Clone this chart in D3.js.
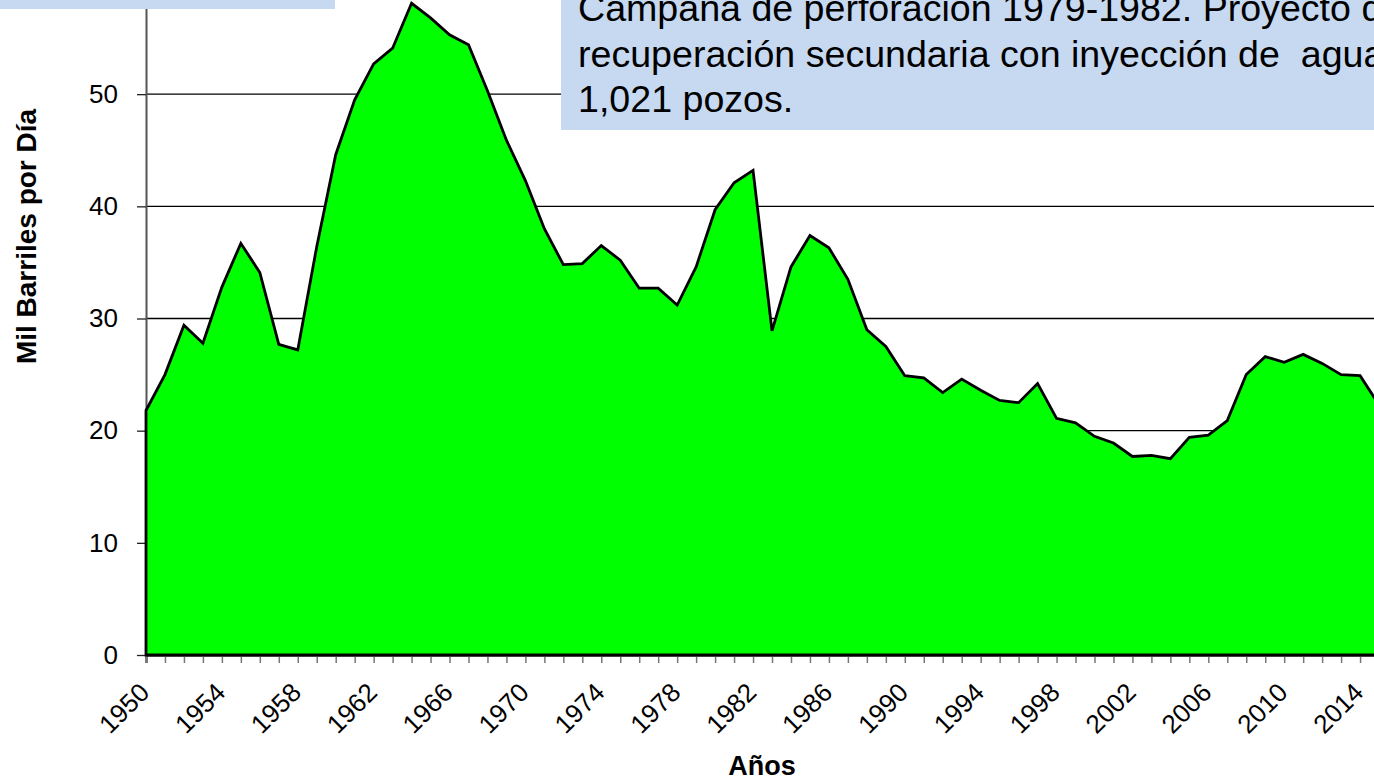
<!DOCTYPE html>
<html>
<head>
<meta charset="utf-8">
<script src="https://cdn.jsdelivr.net/npm/d3@7"></script>
<style>
  html, body { margin: 0; padding: 0; background: #fff; }
  svg { display: block; font-family: "Liberation Sans", Arial, sans-serif; }
</style>
</head>
<body>
<div id="root"></div>
<script>
// data
const years = d3.range(1950, 2016)
const production = [
  21.8, 25.0, 29.4, 27.8, 32.8, 36.7, 34.1, 27.7, 27.2, 36.4,
  44.6, 49.5, 52.7, 54.1, 58.1, 56.8, 55.3, 54.4, 50.3, 45.9,
  42.3, 38.0, 34.8, 34.9, 36.5, 35.2, 32.7, 32.7, 31.2, 34.6,
  39.7, 42.1, 43.2, 28.9, 34.6, 37.4, 36.3, 33.5, 29.0, 27.5,
  24.9, 24.7, 23.4, 24.6, 23.6, 22.7, 22.5, 24.2, 21.1, 20.7,
  19.5, 18.9, 17.7, 17.8, 17.5, 19.4, 19.6, 20.9, 25.0, 26.6,
  26.1, 26.8, 26.0, 25.0, 24.9, 22.3,
]
const yTicks = [0, 10, 20, 30, 40, 50, 60]
const labelEvery = 4
const noteLines = [
  "Campaña de perforación 1979-1982. Proyecto de",
  "recuperación secundaria con inyección de  agua",
  "1,021 pozos.",
]
const yTitle = "Mil Barriles por Día"
const xTitle = "Años"

function drawChart() {
  const ROOT_ELEM = d3.select("#root")
  ROOT_ELEM.selectAll("*").remove()

  const data = years.map((y, i) => ({ year: y, value: production[i] }))

  const dimension = {
    width: 1374,
    height: 780,
    margin: { top: -18, left: 146, bottom: 125 },
  }
  const { width, height, margin } = dimension
  const baseY = height - margin.bottom

  const wrapper = ROOT_ELEM.append("svg")
    .attr("width", width)
    .attr("height", height)

  const xAccessor = d => d.year
  const yAccessor = d => d.value

  const xScale = d3.scaleLinear()
    .domain([1950, 2015])
    .range([margin.left, margin.left + 65 * 18.97])

  const yScale = d3.scaleLinear()
    .domain([0, 60])
    .range([baseY, margin.top])

  // gridlines
  wrapper.append("g")
    .selectAll("line")
    .data(yTicks.filter(d => d > 0))
    .join("line")
    .attr("x1", xScale(1950))
    .attr("x2", width)
    .attr("y1", d => yScale(d))
    .attr("y2", d => yScale(d))
    .attr("stroke", "#000")
    .attr("stroke-width", 1.3)

  // x axis ticks
  const xAxis = wrapper.append("g")
    .attr("transform", `translate(0, ${baseY})`)
    .call(d3.axisBottom(xScale)
      .tickValues(years)
      .tickSize(8)
      .tickFormat(""))
  xAxis.select(".domain").attr("stroke", "#000").attr("stroke-width", 2)
  xAxis.selectAll(".tick line").attr("stroke", "#777").attr("stroke-width", 1.5)

  wrapper.append("g")
    .selectAll("text")
    .data(years.filter(y => (y - 1950) % labelEvery === 0))
    .join("text")
    .attr("transform", d => `translate(${xScale(d) + 5}, ${baseY + 39}) rotate(-45)`)
    .attr("text-anchor", "end")
    .attr("font-size", 26)
    .attr("fill", "#000")
    .text(d => d)

  // y axis
  const yAxis = wrapper.append("g")
    .attr("transform", `translate(${margin.left}, 0)`)
    .call(d3.axisLeft(yScale)
      .tickValues(yTicks)
      .tickSize(9)
      .tickPadding(19)
      .tickSizeOuter(0))
  yAxis.select(".domain").attr("stroke", "#555").attr("stroke-width", 2)
  yAxis.selectAll(".tick line").attr("stroke", "#222").attr("stroke-width", 1.3)
  yAxis.selectAll(".tick text")
    .attr("font-size", 26)
    .attr("font-family", "Liberation Sans, Arial, sans-serif")
    .attr("fill", "#000")

  // area series
  const areaGenerator = d3.area()
    .x(d => xScale(xAccessor(d)))
    .y0(yScale(0))
    .y1(d => yScale(yAccessor(d)))

  wrapper.append("path")
    .datum(data)
    .attr("d", areaGenerator)
    .attr("fill", "#00ff00")
    .attr("stroke", "#000")
    .attr("stroke-width", 2.8)
    .attr("stroke-linejoin", "miter")

  // axis titles
  wrapper.append("text")
    .attr("transform", `translate(36, ${(108 + 365) / 2}) rotate(-90)`)
    .attr("text-anchor", "middle")
    .attr("font-size", 28)
    .attr("font-weight", "bold")
    .text(yTitle)

  wrapper.append("text")
    .attr("x", 762)
    .attr("y", 775)
    .attr("text-anchor", "middle")
    .attr("font-size", 27)
    .attr("font-weight", "bold")
    .text(xTitle)

  // annotation boxes (cut by the picture edges)
  wrapper.append("rect")
    .attr("x", 0).attr("y", -40)
    .attr("width", 335).attr("height", 49)
    .attr("fill", "#c6d9f1")

  const note = wrapper.append("g")
  note.append("rect")
    .attr("x", 561).attr("y", -40)
    .attr("width", 900).attr("height", 170)
    .attr("fill", "#c6d9f1")
  note.selectAll("text")
    .data(noteLines)
    .join("text")
    .attr("x", 578)
    .attr("y", (d, i) => 21 + i * 45.6)
    .attr("font-size", 37.6)
    .attr("fill", "#000")
    .style("white-space", "pre")
    .text(d => d)
}

drawChart()
</script>
</body>
</html>
